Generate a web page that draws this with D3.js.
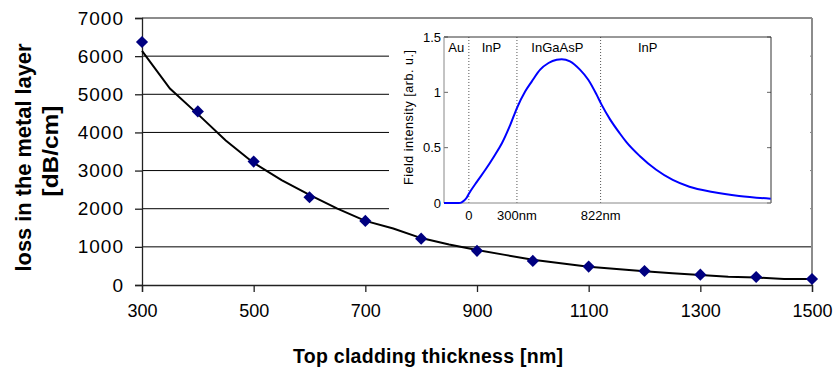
<!DOCTYPE html>
<html><head><meta charset="utf-8">
<script src="https://cdn.jsdelivr.net/npm/d3@7"></script>
<style>body{margin:0;background:#fff}svg{display:block;font-family:Arial,"Liberation Sans",sans-serif}</style>
</head><body><svg id="c" width="839" height="372"></svg>
<script>
// Main chart data
const thickness = [300,400,500,600,700,800,900,1000,1100,1200,1300,1400,1500];
const loss = [6370,4550,3235,2300,1680,1215,895,632,482,368,272,210,158];
const fitThickness = [300,350,400,450,500,550,600,650,700,750,800,850,900,950,1000,1050,1100,1150,1200,1250,1300,1350,1400,1450,1500];
const fitLoss = [6140,5150,4480,3790,3200,2750,2360,2000,1680,1480,1230,1060,920,790,660,570,480,420,360,305,263,215,195,160,158];
const xTicks = [300,500,700,900,1100,1300,1500];
const yTicks = [0,1000,2000,3000,4000,5000,6000,7000];
// Inset data
const fieldPos = [-155,-62,-45,-31,-15,0,52,103,155,207,259,300,352,393,445,497,548,579,631,693,745,797,828,879,941,983,1066,1169,1272,1376,1521,1686,1883];
const fieldVal = [0,0,0.006,0.02,0.045,0.084,0.196,0.30,0.416,0.542,0.708,0.858,1.009,1.099,1.205,1.265,1.295,1.30,1.28,1.205,1.114,0.979,0.889,0.76,0.63,0.55,0.425,0.30,0.208,0.147,0.1,0.064,0.039];
const layerBounds = [0,300,822];
const layerBoundLabels = ["0","300nm","822nm"];
const layerNames = ["Au","InP","InGaAsP","InP"];
const layerNamePos = [-128,80,390,1055];
const insetYTicks = [0,0.5,1,1.5];
const insetYTickLabels = ["0","0.5","1","1.5"];

const svg = d3.select("#c");
const x = d3.scaleLinear().domain([300,1500]).range([142,812]);
const y = d3.scaleLinear().domain([0,7000]).range([285,18]);

// gridlines
svg.append("g").selectAll("line").data(yTicks.filter(v=>v>0&&v<7000)).join("line")
  .attr("x1",x(300)).attr("x2",x(1500)).attr("y1",d=>y(d)).attr("y2",d=>y(d))
  .attr("stroke","#000").attr("stroke-width",1);
// inset white background
svg.append("rect").attr("x",389).attr("y",19.5).attr("width",421.5).attr("height",210).attr("fill","#fff");
// top and right border (gray)
svg.append("line").attr("x1",x(300)).attr("x2",x(1500)).attr("y1",y(7000)).attr("y2",y(7000)).attr("stroke","#8c8c8c").attr("stroke-width",2);
svg.append("line").attr("x1",x(1500)).attr("x2",x(1500)).attr("y1",y(7000)).attr("y2",y(0)).attr("stroke","#8c8c8c").attr("stroke-width",2);

// axes
const yAxis = svg.append("g").attr("transform",`translate(${x(300)},0)`)
  .call(d3.axisLeft(y).tickValues(yTicks).tickSize(7).tickPadding(11).tickFormat(d3.format("d")));
yAxis.selectAll("text").attr("font-size",19).attr("letter-spacing",1).attr("fill","#000").attr("font-family","Arial, Liberation Sans, sans-serif");
const xAxis = svg.append("g").attr("transform",`translate(0,${y(0)})`)
  .call(d3.axisBottom(x).tickValues(xTicks).tickSize(7).tickPadding(12).tickFormat(d3.format("d")));
xAxis.selectAll("text").attr("font-size",18).attr("fill","#000").attr("font-family","Arial, Liberation Sans, sans-serif");
[yAxis,xAxis].forEach(a=>{a.select(".domain").attr("stroke","#222").attr("stroke-width",1.3);a.selectAll(".tick line").attr("stroke","#222").attr("stroke-width",1.3);});

// fit line
svg.append("path").datum(fitThickness.map((t,i)=>[t,fitLoss[i]]))
  .attr("d",d3.line().x(d=>x(d[0])).y(d=>y(d[1])))
  .attr("fill","none").attr("stroke","#000").attr("stroke-width",2);
// diamonds
svg.append("g").selectAll("path").data(thickness.map((t,i)=>[t,loss[i]])).join("path")
  .attr("d",d3.symbol().type(d3.symbolSquare).size(74))
  .attr("transform",d=>`translate(${x(d[0])},${y(d[1])}) rotate(45)`)
  .attr("fill","#000080");

// axis titles
svg.append("text").attr("x",428).attr("y",363).attr("text-anchor","middle")
  .attr("font-size",19.5).attr("font-weight","bold").attr("textLength",270).attr("lengthAdjust","spacing")
  .text("Top cladding thickness [nm]");
svg.append("text").attr("transform","translate(30.5,157.5) rotate(-90)").attr("text-anchor","middle")
  .attr("font-size",22).attr("font-weight","bold").attr("textLength",228).attr("lengthAdjust","spacingAndGlyphs")
  .text("loss in the metal layer");
svg.append("text").attr("transform","translate(58,151) rotate(-90)").attr("text-anchor","middle")
  .attr("font-size",22).attr("font-weight","bold").attr("textLength",91).attr("lengthAdjust","spacingAndGlyphs")
  .text("[dB/cm]");

// Inset
const ix = d3.scaleLinear().domain([-155,1885]).range([444,771]);
const iy = d3.scaleLinear().domain([0,1.5]).range([203,37]);
const g = svg.append("g");
// dotted layer boundaries
g.selectAll("line.b").data(layerBounds).join("line")
  .attr("x1",d=>ix(d)).attr("x2",d=>ix(d)).attr("y1",iy(0)).attr("y2",iy(1.5))
  .attr("stroke","#555").attr("stroke-width",1).attr("stroke-dasharray","1,2");
// inner ticks
insetYTicks.forEach(v=>{
  g.append("line").attr("x1",ix(-155)).attr("x2",ix(-155)+4).attr("y1",iy(v)).attr("y2",iy(v)).attr("stroke","#666");
  g.append("line").attr("x1",ix(1885)).attr("x2",ix(1885)-4).attr("y1",iy(v)).attr("y2",iy(v)).attr("stroke","#666");
});
// box
g.append("line").attr("x1",ix(-155)).attr("x2",ix(1885)).attr("y1",iy(1.5)).attr("y2",iy(1.5)).attr("stroke","#333");
g.append("line").attr("x1",ix(1885)).attr("x2",ix(1885)).attr("y1",iy(1.5)).attr("y2",iy(0)).attr("stroke","#333");
g.append("line").attr("x1",ix(-155)).attr("x2",ix(-155)).attr("y1",iy(1.5)).attr("y2",iy(0)).attr("stroke","#888");
g.append("line").attr("x1",ix(-155)).attr("x2",ix(1885)).attr("y1",iy(0)).attr("y2",iy(0)).attr("stroke","#888");
// curve
g.append("path").datum(fieldPos.map((p,i)=>[p,fieldVal[i]]))
  .attr("d",d3.line().x(d=>ix(d[0])).y(d=>iy(d[1])).curve(d3.curveMonotoneX))
  .attr("fill","none").attr("stroke","#0000ff").attr("stroke-width",2);
// y tick labels
g.selectAll("text.yt").data(insetYTicks).join("text")
  .attr("x",441).attr("y",d=>iy(d)).attr("dy","0.36em").attr("text-anchor","end")
  .attr("font-size",13).text((d,i)=>insetYTickLabels[i]);
// x tick labels
g.selectAll("text.xt").data(layerBounds).join("text")
  .attr("x",d=>ix(d)).attr("y",220).attr("text-anchor","middle")
  .attr("font-size",13).text((d,i)=>layerBoundLabels[i]);
// layer names
g.selectAll("text.ln").data(layerNames).join("text")
  .attr("x",(d,i)=>ix(layerNamePos[i])).attr("y",51.5)
  .attr("font-size",13).text(d=>d);
// inset y title
g.append("text").attr("transform","translate(413,117.5) rotate(-90)").attr("text-anchor","middle")
  .attr("font-size",12.5).attr("textLength",135).attr("lengthAdjust","spacing").text("Field intensity [arb. u.]");
</script></body></html>
